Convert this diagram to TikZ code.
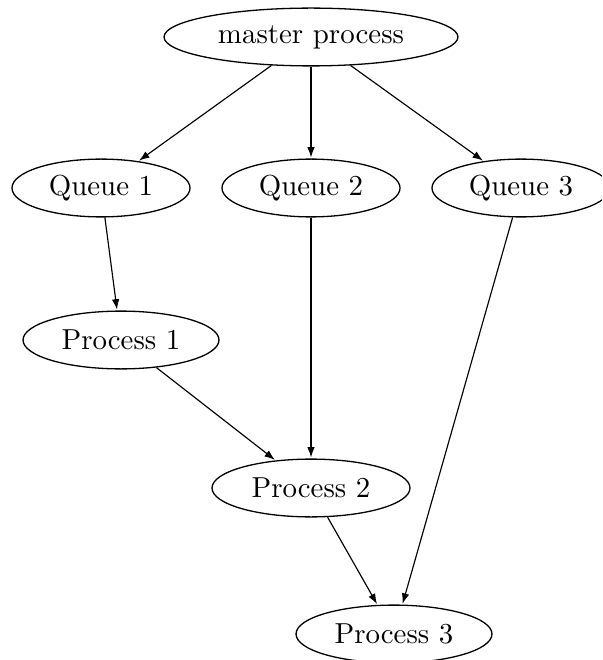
\documentclass[tikz,border=0pt]{standalone}
\usetikzlibrary{shapes.geometric,arrows.meta}
\begin{document}
\begin{tikzpicture}[x=0.346pt,y=-0.346pt,
  proc/.style={draw,ellipse,inner sep=0pt,minimum height=20pt,line width=0.45pt},
  edge/.style={-{Latex[length=3.6pt,width=2.6pt]},line width=0.4pt,shorten >=0.3pt}]
\clip (0,0) rectangle (602,660);
\useasboundingbox (0,0) rectangle (602,660);
\node[proc,minimum width=101.7pt] (m) at (311,37) {master process};
\node[proc,minimum width=61.6pt] (q1) at (101,188) {Queue 1};
\node[proc,minimum width=61.6pt] (q2) at (311,188) {Queue 2};
\node[proc,minimum width=61.6pt] (q3) at (521,188) {Queue 3};
\node[proc,minimum width=67.8pt] (p1) at (121,340) {Process 1};
\node[proc,minimum width=68.5pt] (p2) at (311,488) {Process 2};
\node[proc,minimum width=67.8pt] (p3) at (394,634) {Process 3};
\draw[edge] (m) -- (q1);
\draw[edge] (m) -- (q2);
\draw[edge] (m) -- (q3);
\draw[edge] (q1) -- (p1);
\draw[edge] (q2) -- (p2);
\draw[edge] (q3) -- (p3);
\draw[edge] (p1) -- (p2);
\draw[edge] (p2) -- (p3);
\end{tikzpicture}
\end{document}
